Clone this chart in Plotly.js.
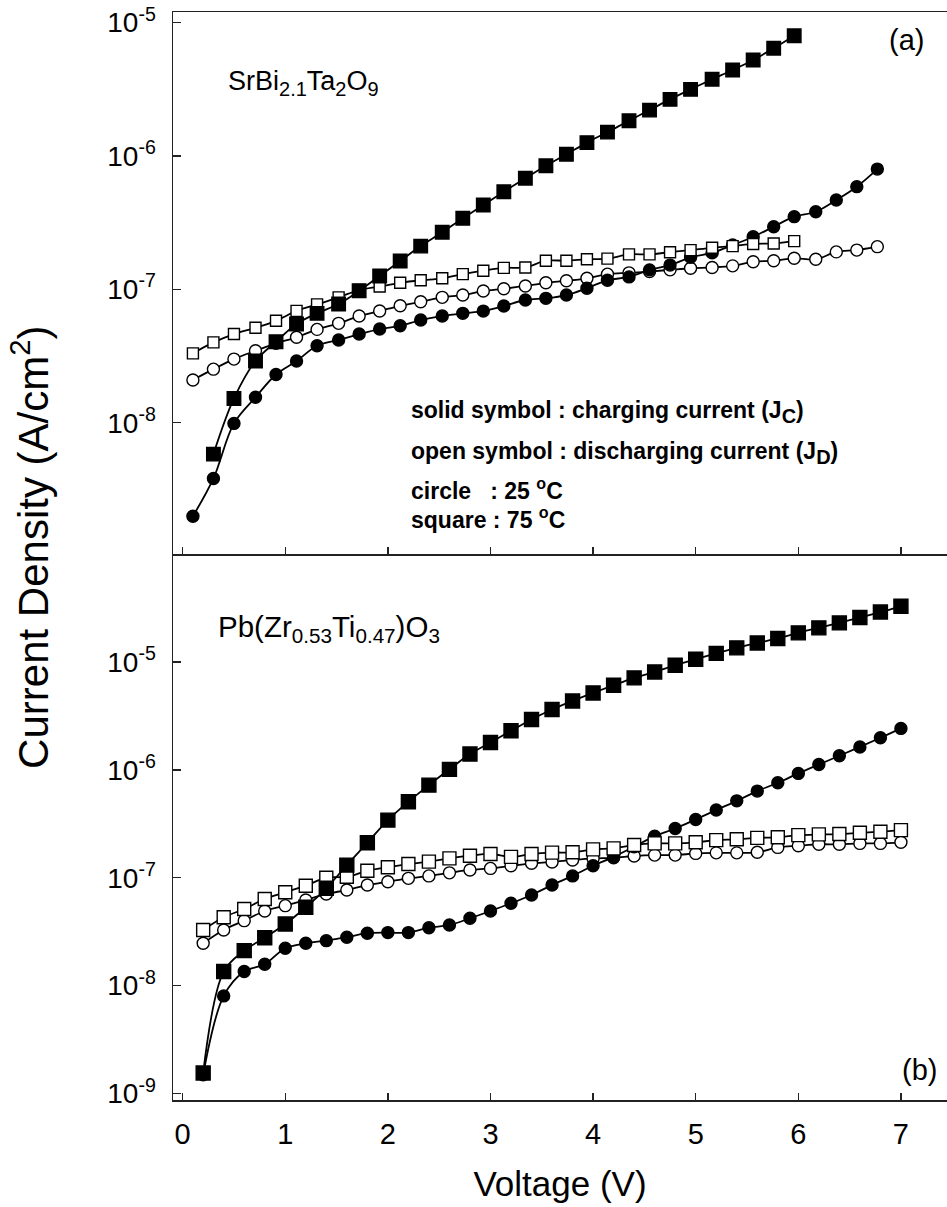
<!DOCTYPE html>
<html>
<head>
<meta charset="utf-8">
<script src="https://cdn.plot.ly/plotly-3.0.1.min.js"></script>
<style>html,body{margin:0;padding:0;background:#fff;}#chart{width:947px;height:1207px;}</style>
</head>
<body>
<div id="chart"></div>
<script>
// ---------- data ----------
// (a) SrBi2.1Ta2O9
var vTopCircle = [0.10,0.30,0.50,0.71,0.91,1.11,1.31,1.52,1.72,1.92,2.12,2.32,2.53,2.73,2.93,3.13,3.34,3.54,3.74,3.94,4.14,4.35,4.55,4.75,4.95,5.16,5.36,5.56,5.76,5.96,6.17,6.37,6.57,6.77];
var vTopOpenSquare = [0.10,0.30,0.50,0.71,0.91,1.11,1.31,1.52,1.72,1.92,2.12,2.32,2.53,2.73,2.93,3.13,3.34,3.54,3.74,3.94,4.14,4.35,4.55,4.75,4.95,5.16,5.36,5.56,5.76,5.96];
var vTopSolidSquare = [0.30,0.50,0.71,0.91,1.11,1.31,1.52,1.72,1.92,2.12,2.32,2.53,2.73,2.93,3.13,3.34,3.54,3.74,3.94,4.14,4.35,4.55,4.75,4.95,5.16,5.36,5.56,5.76,5.96];
var sbtJc25 = [1.99e-9,3.82e-9,9.88e-9,1.55e-8,2.30e-8,2.90e-8,3.78e-8,4.17e-8,4.62e-8,5.04e-8,5.33e-8,5.89e-8,6.31e-8,6.61e-8,6.87e-8,7.50e-8,8.32e-8,8.56e-8,9.06e-8,1.02e-7,1.17e-7,1.24e-7,1.40e-7,1.52e-7,1.74e-7,1.88e-7,2.15e-7,2.48e-7,2.95e-7,3.51e-7,3.82e-7,4.68e-7,5.89e-7,7.98e-7];
var sbtJd25 = [2.09e-8,2.52e-8,3.00e-8,3.46e-8,3.94e-8,4.37e-8,5.01e-8,5.56e-8,6.31e-8,6.88e-8,7.53e-8,8.07e-8,8.71e-8,9.06e-8,9.71e-8,1.01e-7,1.06e-7,1.12e-7,1.16e-7,1.21e-7,1.30e-7,1.33e-7,1.36e-7,1.40e-7,1.44e-7,1.46e-7,1.50e-7,1.61e-7,1.64e-7,1.71e-7,1.68e-7,1.91e-7,1.97e-7,2.09e-7];
var sbtJc75 = [5.81e-9,1.52e-8,2.90e-8,4.05e-8,5.50e-8,6.61e-8,7.76e-8,9.75e-8,1.26e-7,1.63e-7,2.11e-7,2.68e-7,3.41e-7,4.29e-7,5.40e-7,6.81e-7,8.45e-7,1.03e-6,1.26e-6,1.51e-6,1.84e-6,2.21e-6,2.66e-6,3.16e-6,3.76e-6,4.42e-6,5.25e-6,6.43e-6,7.98e-6];
var sbtJd75 = [3.31e-8,4.00e-8,4.62e-8,5.15e-8,5.81e-8,6.90e-8,7.71e-8,8.71e-8,9.88e-8,1.05e-7,1.12e-7,1.17e-7,1.21e-7,1.30e-7,1.38e-7,1.45e-7,1.46e-7,1.64e-7,1.64e-7,1.68e-7,1.70e-7,1.83e-7,1.83e-7,1.90e-7,1.97e-7,2.05e-7,2.11e-7,2.19e-7,2.21e-7,2.30e-7];

// (b) Pb(Zr0.53Ti0.47)O3
var vBottom = [0.2,0.4,0.6,0.8,1.0,1.2,1.4,1.6,1.8,2.0,2.2,2.4,2.6,2.8,3.0,3.2,3.4,3.6,3.8,4.0,4.2,4.4,4.6,4.8,5.0,5.2,5.4,5.6,5.8,6.0,6.2,6.4,6.6,6.8,7.0];
var pztJc25 = [1.49e-9,8.03e-9,1.35e-8,1.58e-8,2.22e-8,2.47e-8,2.61e-8,2.81e-8,3.06e-8,3.10e-8,3.10e-8,3.44e-8,3.65e-8,4.21e-8,4.92e-8,5.80e-8,6.92e-8,8.55e-8,1.04e-7,1.29e-7,1.56e-7,1.94e-7,2.43e-7,2.86e-7,3.47e-7,4.24e-7,5.16e-7,6.35e-7,7.59e-7,9.27e-7,1.12e-6,1.35e-6,1.63e-6,1.98e-6,2.42e-6];
var pztJd25 = [2.47e-8,3.28e-8,4.00e-8,4.92e-8,5.51e-8,6.22e-8,7.07e-8,7.69e-8,8.55e-8,9.18e-8,9.87e-8,1.04e-7,1.11e-7,1.18e-7,1.22e-7,1.29e-7,1.36e-7,1.40e-7,1.46e-7,1.51e-7,1.53e-7,1.59e-7,1.62e-7,1.62e-7,1.68e-7,1.70e-7,1.70e-7,1.72e-7,1.91e-7,1.98e-7,2.04e-7,2.04e-7,2.08e-7,2.08e-7,2.13e-7];
var pztJc75 = [1.55e-9,1.35e-8,2.11e-8,2.78e-8,3.72e-8,5.32e-8,7.98e-8,1.31e-7,2.11e-7,3.42e-7,5.06e-7,7.22e-7,1.01e-6,1.40e-6,1.79e-6,2.30e-6,2.93e-6,3.62e-6,4.35e-6,5.16e-6,6.08e-6,7.11e-6,8.08e-6,9.32e-6,1.06e-5,1.20e-5,1.35e-5,1.50e-5,1.65e-5,1.86e-5,2.07e-5,2.30e-5,2.58e-5,2.90e-5,3.28e-5];
var pztJd75 = [3.28e-8,4.30e-8,5.13e-8,6.35e-8,7.33e-8,8.44e-8,1.00e-7,1.02e-7,1.16e-7,1.25e-7,1.34e-7,1.41e-7,1.51e-7,1.60e-7,1.66e-7,1.56e-7,1.66e-7,1.71e-7,1.72e-7,1.83e-7,1.87e-7,2.01e-7,2.08e-7,2.08e-7,2.13e-7,2.23e-7,2.27e-7,2.34e-7,2.37e-7,2.48e-7,2.52e-7,2.54e-7,2.61e-7,2.67e-7,2.76e-7];

// tick labels
var xTickVals = [0,1,2,3,4,5,6,7];
var xTickText = ['0','1','2','3','4','5','6','7'];
var yTopTickVals = [1e-8,1e-7,1e-6,1e-5];
var yTopTickText = ['10<sup>-8</sup>','10<sup>-7</sup>','10<sup>-6</sup>','10<sup>-5</sup>'];
var yBotTickVals = [1e-9,1e-8,1e-7,1e-6,1e-5];
var yBotTickText = ['10<sup>-9</sup>','10<sup>-8</sup>','10<sup>-7</sup>','10<sup>-6</sup>','10<sup>-5</sup>'];

// ---------- drawing ----------
var FONT = 'Liberation Sans, Arial, Helvetica, sans-serif';
var LINE = {color:'#000', width:1.8, shape:'spline', smoothing:1};
function tr(x, y, xa, ya, symbol, size, fill) {
  return {
    x:x, y:y, xaxis:xa, yaxis:ya, type:'scatter', mode:'lines+markers',
    line:LINE, cliponaxis:false,
    marker:{symbol:symbol, size:size, color:fill, line:{color:'#000', width:1.4}},
    hoverinfo:'skip', showlegend:false
  };
}
var data = [
  tr(vTopCircle, sbtJd25, 'x2', 'y2', 'circle', 12, '#fff'),
  tr(vTopCircle, sbtJc25, 'x2', 'y2', 'circle', 12, '#000'),
  tr(vTopOpenSquare, sbtJd75, 'x2', 'y2', 'square', 11, '#fff'),
  tr(vTopSolidSquare, sbtJc75, 'x2', 'y2', 'square', 13.5, '#000'),
  tr(vBottom, pztJd25, 'x', 'y', 'circle', 12, '#fff'),
  tr(vBottom, pztJc25, 'x', 'y', 'circle', 12, '#000'),
  tr(vBottom, pztJd75, 'x', 'y', 'square', 13, '#fff'),
  tr(vBottom, pztJc75, 'x', 'y', 'square', 14, '#000')
];

var SPLIT = 0.5018;
var XR = [-0.094, 7.449];
var axisCommon = {
  showgrid:false, zeroline:false, showline:true, linecolor:'#222', linewidth:1.5,
  ticks:'inside', tickcolor:'#222', tickwidth:1.5
};
var layout = {
  width:947, height:1207,
  margin:{l:173, r:0, t:12, b:107},
  paper_bgcolor:'#fff', plot_bgcolor:'#fff',
  font:{family:FONT, color:'#000'},
  showlegend:false,
  xaxis: Object.assign({}, axisCommon, {
    domain:[0,1], anchor:'y', range:XR, tickmode:'array', tickvals:xTickVals, ticktext:xTickText,
    ticklen:7, tickfont:{size:29, family:FONT}, ticklabelstandoff:8,
    title:{text:'Voltage (V)', font:{size:35, family:FONT}, standoff:22}
  }),
  xaxis2: Object.assign({}, axisCommon, {
    domain:[0,1], anchor:'y2', range:XR, tickmode:'array', tickvals:xTickVals,
    ticklen:7, showticklabels:false, mirror:true
  }),
  yaxis: Object.assign({}, axisCommon, {
    domain:[0,SPLIT], anchor:'x', type:'log', range:[-9.06,-4.0],
    tickmode:'array', tickvals:yBotTickVals, ticktext:yBotTickText,
    ticklen:8, tickfont:{size:28, family:FONT}, ticklabelstandoff:10
  }),
  yaxis2: Object.assign({}, axisCommon, {
    domain:[SPLIT,1], anchor:'x2', type:'log', range:[-8.985,-4.92],
    tickmode:'array', tickvals:yTopTickVals, ticktext:yTopTickText,
    ticklen:8, tickfont:{size:28, family:FONT}, ticklabelstandoff:10
  }),
  annotations:[
    {xref:'paper', yref:'paper', x:-0.184, y:0.508, xanchor:'center', yanchor:'middle', textangle:-90,
     text:'Current Density (A/cm<sup>2</sup>)', showarrow:false, font:{size:42, family:FONT}},
    {xref:'paper', yref:'paper', x:0.069, y:0.935, xanchor:'left', yanchor:'middle',
     text:'SrBi<sub><span style="font-size:20px">2.1</span></sub>Ta<sub><span style="font-size:20px">2</span></sub>O<sub><span style="font-size:20px">9</span></sub>', showarrow:false, font:{size:27, family:FONT}},
    {xref:'paper', yref:'paper', x:0.948, y:0.9743, xanchor:'center', yanchor:'middle',
     text:'(a)', showarrow:false, font:{size:29, family:FONT}},
    {xref:'paper', yref:'paper', x:0.965, y:0.0276, xanchor:'center', yanchor:'middle',
     text:'(b)', showarrow:false, font:{size:29, family:FONT}},
    {xref:'paper', yref:'paper', x:0.056, y:0.433, xanchor:'left', yanchor:'middle',
     text:'Pb(Zr<sub>0.53</sub>Ti<sub>0.47</sub>)O<sub>3</sub>', showarrow:false, font:{size:29.5, family:FONT}},
    {xref:'paper', yref:'paper', x:0.305, y:0.632, xanchor:'left', yanchor:'middle',
     text:'<b>solid symbol : charging current (J<sub><span style="font-size:20px">C</span></sub>)</b>', showarrow:false, font:{size:23, family:FONT}},
    {xref:'paper', yref:'paper', x:0.305, y:0.595, xanchor:'left', yanchor:'middle',
     text:'<b>open symbol : discharging current (J<sub><span style="font-size:20px">D</span></sub>)</b>', showarrow:false, font:{size:23, family:FONT}},
    {xref:'paper', yref:'paper', x:0.305, y:0.5619, xanchor:'left', yanchor:'middle',
     text:'<b>circle\u00a0\u00a0\u00a0: 25 <sup>o</sup>C</b>', showarrow:false, font:{size:23, family:FONT}},
    {xref:'paper', yref:'paper', x:0.305, y:0.5352, xanchor:'left', yanchor:'middle',
     text:'<b>square : 75 <sup>o</sup>C</b>', showarrow:false, font:{size:23, family:FONT}}
  ]
};
Plotly.newPlot('chart', data, layout, {displayModeBar:false, staticPlot:true});
</script>
</body>
</html>
